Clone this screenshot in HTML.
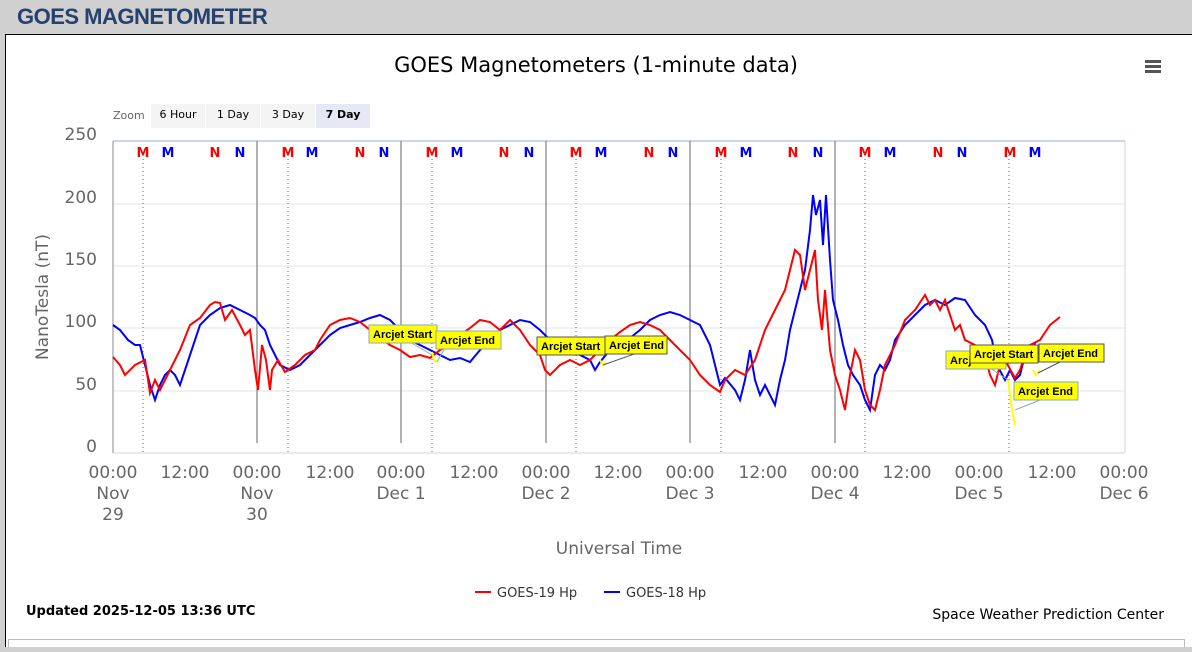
<!DOCTYPE html>
<html><head><meta charset="utf-8"><style>
body{margin:0;background:#d0d0d0;width:1192px;height:647px;overflow:hidden;font-family:"Liberation Sans",sans-serif}
</style></head><body>
<svg width="1192" height="647" xmlns="http://www.w3.org/2000/svg" font-family="DejaVu Sans, sans-serif">
<rect x="0" y="0" width="1192" height="647" fill="#d0d0d0"/>
<text x="17" y="24" font-size="22" font-weight="bold" fill="#27416e" letter-spacing="-0.5" font-family="Liberation Sans, sans-serif">GOES MAGNETOMETER</text>
<rect x="5.5" y="34.5" width="1190" height="640" fill="#fff" stroke="#000"/>
<rect x="8.5" y="639.5" width="1176" height="12" fill="#fff" stroke="#bbb"/>
<text x="596" y="72" font-size="21" text-anchor="middle" fill="#000">GOES Magnetometers (1-minute data)</text>
<g fill="#555"><rect x="1145" y="60" width="16" height="3"/><rect x="1145" y="65" width="16" height="3"/><rect x="1145" y="70" width="16" height="3"/></g>
<text x="113" y="119" font-size="11" fill="#666">Zoom</text>
<rect x="151" y="104" width="54" height="24" fill="#f4f4f4"/><text x="178" y="118" font-size="11" text-anchor="middle">6 Hour</text>
<rect x="206" y="104" width="54" height="24" fill="#f4f4f4"/><text x="233" y="118" font-size="11" text-anchor="middle">1 Day</text>
<rect x="261" y="104" width="54" height="24" fill="#f4f4f4"/><text x="288" y="118" font-size="11" text-anchor="middle">3 Day</text>
<rect x="316" y="104" width="54" height="24" fill="#e6e9f5"/><text x="343" y="118" font-size="11" font-weight="bold" text-anchor="middle">7 Day</text>
<g stroke="#e6e6e6"><line x1="113" x2="1125" y1="204" y2="204"/><line x1="113" x2="1125" y1="266" y2="266"/><line x1="113" x2="1125" y1="328" y2="328"/><line x1="113" x2="1125" y1="391" y2="391"/></g>
<line x1="113" x2="1125" y1="141" y2="141" stroke="#ccd6eb" stroke-width="2"/>
<line x1="113" x2="1125" y1="453" y2="453" stroke="#ccd6eb"/>
<line x1="1125" x2="1125" y1="141" y2="453" stroke="#ccd6eb"/>
<line x1="113" x2="113" y1="141" y2="453" stroke="#888"/>
<g font-size="17" fill="#666" text-anchor="end"><text x="97" y="140">250</text><text x="97" y="203">200</text><text x="97" y="265">150</text><text x="97" y="327">100</text><text x="97" y="390">50</text><text x="97" y="452">0</text></g>
<text transform="translate(48,297) rotate(-90)" font-size="17" fill="#666" text-anchor="middle">NanoTesla (nT)</text>
<g stroke="#666"><line x1="257" x2="257" y1="141" y2="443"/><line x1="401" x2="401" y1="141" y2="443"/><line x1="546" x2="546" y1="141" y2="443"/><line x1="690" x2="690" y1="141" y2="443"/><line x1="835" x2="835" y1="141" y2="443"/></g>
<g stroke="#666" stroke-dasharray="1,3"><line x1="143" x2="143" y1="155" y2="453"/><line x1="288" x2="288" y1="155" y2="453"/><line x1="432" x2="432" y1="155" y2="453"/><line x1="576" x2="576" y1="155" y2="453"/><line x1="721" x2="721" y1="155" y2="453"/><line x1="865" x2="865" y1="155" y2="453"/><line x1="1009" x2="1009" y1="155" y2="453"/></g>
<g font-size="13" font-weight="bold" text-anchor="middle">
<text x="143" y="157" fill="red">M</text><text x="168" y="157" fill="blue">M</text><text x="215" y="157" fill="red">N</text><text x="240" y="157" fill="blue">N</text>
<text x="288" y="157" fill="red">M</text><text x="312" y="157" fill="blue">M</text><text x="360" y="157" fill="red">N</text><text x="384" y="157" fill="blue">N</text>
<text x="432" y="157" fill="red">M</text><text x="457" y="157" fill="blue">M</text><text x="504" y="157" fill="red">N</text><text x="529" y="157" fill="blue">N</text>
<text x="576" y="157" fill="red">M</text><text x="601" y="157" fill="blue">M</text><text x="649" y="157" fill="red">N</text><text x="673" y="157" fill="blue">N</text>
<text x="721" y="157" fill="red">M</text><text x="746" y="157" fill="blue">M</text><text x="793" y="157" fill="red">N</text><text x="818" y="157" fill="blue">N</text>
<text x="865" y="157" fill="red">M</text><text x="890" y="157" fill="blue">M</text><text x="938" y="157" fill="red">N</text><text x="962" y="157" fill="blue">N</text>
<text x="1010" y="157" fill="red">M</text><text x="1035" y="157" fill="blue">M</text>
</g>
<polyline fill="none" stroke="blue" stroke-width="2" points="113,325 120,330 128,340 135,345 140,345 145,365 150,385 155,400 160,385 165,375 170,370 175,375 180,385 185,370 190,355 195,340 200,325 205,320 210,315 220,308 230,305 240,310 250,315 255,318 260,325 265,330 270,345 275,355 280,365 290,370 300,365 310,355 320,345 330,335 340,328 350,325 360,322 370,318 380,315 390,320 400,330 410,340 420,345 430,350 440,355 450,360 460,358 470,362 480,350 490,340 500,330 510,325 520,320 530,322 540,330 550,340 560,345 570,350 580,355 590,360 595,370 600,362 610,350 620,345 630,338 640,330 650,320 660,315 670,312 680,315 690,320 700,325 710,345 715,365 720,385 725,378 735,390 740,400 745,380 750,350 755,380 760,395 765,385 770,395 775,405 780,380 785,360 790,330 795,310 800,290 805,270 810,230 813,195 816,215 820,200 823,245 826,195 830,260 833,300 838,320 843,345 848,365 853,375 860,385 865,400 870,410 875,375 880,365 885,370 890,360 895,340 905,325 915,315 925,305 935,300 945,305 955,298 965,300 975,315 985,325 992,340 997,365 1005,380 1010,370 1015,380 1020,375 1025,355 1030,360 1035,343"/>
<polyline fill="none" stroke="red" stroke-width="2" points="113,357 120,365 125,375 135,365 145,360 150,393 155,380 160,390 170,370 180,350 190,325 200,318 210,305 215,302 220,303 225,320 232,310 240,325 245,335 250,330 255,370 258,390 262,345 266,360 270,390 272,370 278,360 285,372 295,365 305,355 315,350 320,340 330,325 340,320 350,318 360,322 370,330 380,338 390,345 400,350 410,357 420,355 430,358 440,350 450,345 460,335 470,328 480,320 490,322 500,330 510,320 520,330 530,345 540,355 545,370 550,375 560,365 570,360 580,365 590,360 600,350 610,340 620,332 630,325 640,322 650,325 660,330 670,340 680,350 690,360 700,375 710,385 720,392 725,380 735,370 745,375 755,360 765,330 775,310 785,290 795,250 800,255 805,290 810,270 815,250 818,300 822,330 825,290 830,350 835,375 840,390 845,410 850,375 855,350 860,360 865,390 870,405 875,410 880,390 885,365 895,345 905,320 915,310 925,295 930,305 935,300 940,310 945,300 950,315 955,330 960,325 965,340 975,345 985,355 990,375 995,385 1000,365 1005,360 1015,378 1020,370 1025,355 1030,345 1040,340 1050,325 1060,317"/>
<g stroke="yellow" stroke-width="2" fill="none"><polyline points="432,352 434,360 437,362"/><polyline points="600,360 603,365 605,362"/><polyline points="1008,380 1010,395 1012,410 1015,425"/><polyline points="1033,370 1036,375 1040,370"/></g>
<g font-size="11" font-weight="bold" font-family="Liberation Sans, sans-serif">
<line x1="410" y1="342" x2="432" y2="355" stroke="#8ab"/><rect x="369" y="325" width="68" height="18" fill="#ff0" stroke="#8ab"/><text x="373" y="338">Arcjet Start</text>
<line x1="445" y1="348" x2="437" y2="362" stroke="#8ab"/><rect x="436" y="331" width="65" height="18" fill="#ff0" stroke="#8ab"/><text x="440" y="344">Arcjet End</text>
<rect x="537" y="337" width="68" height="18" fill="#ff0" stroke="#555"/><text x="541" y="350">Arcjet Start</text>
<line x1="640" y1="352" x2="603" y2="365" stroke="#555"/><rect x="605" y="336" width="62" height="18" fill="#ff0" stroke="#555"/><text x="609" y="349">Arcjet End</text>
<line x1="990" y1="368" x2="1008" y2="380" stroke="#8ab"/><rect x="946" y="351" width="60" height="18" fill="#ff0" stroke="#8ab"/><text x="950" y="364">Arcj</text>
<rect x="970" y="345" width="68" height="18" fill="#ff0" stroke="#555"/><text x="974" y="358">Arcjet Start</text>
<line x1="1060" y1="362" x2="1038" y2="373" stroke="#555"/><rect x="1039" y="344" width="65" height="18" fill="#ff0" stroke="#555"/><text x="1043" y="357">Arcjet End</text>
<line x1="1040" y1="400" x2="1015" y2="410" stroke="#8ab"/><rect x="1014" y="382" width="64" height="18" fill="#ff0" stroke="#8ab"/><text x="1018" y="395">Arcjet End</text>
</g>
<g font-size="17" fill="#666" text-anchor="middle">
<text x="113" y="478">00:00</text><text x="113" y="499">Nov</text><text x="113" y="520">29</text>
<text x="185" y="478">12:00</text>
<text x="257" y="478">00:00</text><text x="257" y="499">Nov</text><text x="257" y="520">30</text>
<text x="330" y="478">12:00</text>
<text x="401" y="478">00:00</text><text x="401" y="499">Dec 1</text>
<text x="474" y="478">12:00</text>
<text x="546" y="478">00:00</text><text x="546" y="499">Dec 2</text>
<text x="618" y="478">12:00</text>
<text x="690" y="478">00:00</text><text x="690" y="499">Dec 3</text>
<text x="763" y="478">12:00</text>
<text x="835" y="478">00:00</text><text x="835" y="499">Dec 4</text>
<text x="907" y="478">12:00</text>
<text x="979" y="478">00:00</text><text x="979" y="499">Dec 5</text>
<text x="1052" y="478">12:00</text>
<text x="1124" y="478">00:00</text><text x="1124" y="499">Dec 6</text>
<text x="619" y="554">Universal Time</text>
</g>
<line x1="475" x2="491" y1="592" y2="592" stroke="red" stroke-width="2"/><text x="497" y="597" font-size="13" fill="#333">GOES-19 Hp</text>
<line x1="604" x2="620" y1="592" y2="592" stroke="blue" stroke-width="2"/><text x="626" y="597" font-size="13" fill="#333">GOES-18 Hp</text>
<text x="26" y="615" font-size="13" font-weight="bold">Updated 2025-12-05 13:36 UTC</text>
<text x="1164" y="619" font-size="14" text-anchor="end">Space Weather Prediction Center</text>
</svg>
</body></html>
